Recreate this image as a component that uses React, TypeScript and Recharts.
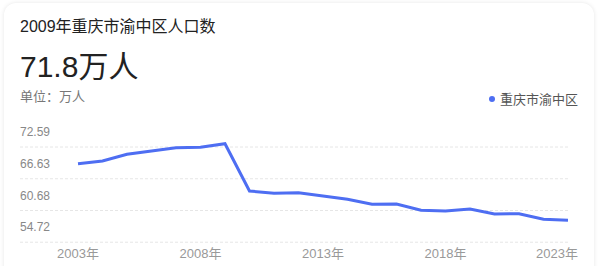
import React from "react";
import { LineChart, Line, XAxis, YAxis, Legend, CartesianGrid } from "recharts";

// 重庆市渝中区人口数（万人），2003–2023
const years = [
  "2003", "2004", "2005", "2006", "2007", "2008", "2009", "2010", "2011", "2012", "2013",
  "2014", "2015", "2016", "2017", "2018", "2019", "2020", "2021", "2022", "2023",
];
const population = [
  68.05, 68.55, 69.81, 70.43, 71.05, 71.12, 71.8, 62.93, 62.49, 62.61, 61.99,
  61.37, 60.43, 60.49, 59.3, 59.17, 59.55, 58.61, 58.67, 57.62, 57.43,
];
const yTicks = [54.72, 60.68, 66.63, 72.59];
const xTicks = ["2003", "2008", "2013", "2018", "2023"];
const seriesName = "重庆市渝中区";
const headlineYear = "2009";
const headlineValue = 71.8;

const data = years.map((y, i) => ({ year: y, value: population[i] }));

const FONT = "Arial, 'Liberation Sans', 'Noto Sans CJK SC', sans-serif";
const BLUE = "#4e6ef2";
const W = 600;
const H = 266;
const Y_AXIS_W = 20;
const Y_DOMAIN: [number, number] = [53, 77];
const MARGIN = { top: 116, right: 31, bottom: 0, left: 0 };
const PLOT_LEFT = MARGIN.left + Y_AXIS_W;
const LABEL_RIGHT_LIMIT = 578;
// grid rules sit a little below each tick, labels a little above
const GRID_SHIFT = 7.5;
const LABEL_SHIFT = -3.3;

const YTick = (props: any) => {
  const { y, payload } = props;
  return (
    <text x={PLOT_LEFT} y={y + LABEL_SHIFT} fill="#888" fontSize={12} fontFamily={FONT} textAnchor="start">
      {Number(payload.value).toFixed(2)}
    </text>
  );
};

const XTick = (props: any) => {
  const { x, y, payload } = props;
  const label = `${payload.value}年`;
  const halfWidth = 21;
  const cx = Math.min(x, LABEL_RIGHT_LIMIT - halfWidth);
  return (
    <text x={cx} y={y + 14} fill="#999" fontSize={13} fontFamily={FONT} textAnchor="middle">
      {label}
    </text>
  );
};

const gridRows = ({ offset }: any) => {
  const [lo, hi] = Y_DOMAIN;
  return yTicks.map((v) => offset.top + ((hi - v) / (hi - lo)) * offset.height + GRID_SHIFT);
};

const LegendContent = () => (
  <div style={{ display: "flex", alignItems: "center", fontFamily: FONT, fontSize: 13, color: "#555" }}>
    <span
      style={{
        width: 6,
        height: 6,
        borderRadius: "50%",
        background: BLUE,
        display: "inline-block",
        marginRight: 5,
      }}
    />
    <span>{seriesName}</span>
  </div>
);

export default function App() {
  return (
    <div
      style={{
        position: "fixed",
        left: 0,
        top: 0,
        width: W,
        height: H,
        background: "#fff",
        overflow: "hidden",
        fontFamily: FONT,
      }}
    >
      <div
        style={{
          position: "absolute",
          left: 4,
          top: 3,
          width: 590,
          height: 320,
          borderRadius: 12,
          background: "#fff",
          boxShadow: "0 0 4px rgba(0,0,0,0.10)",
        }}
      />
      <div
        style={{
          position: "absolute",
          left: 20,
          top: 16,
          fontSize: 16,
          lineHeight: "22px",
          color: "#222",
          whiteSpace: "nowrap",
        }}
      >
        {headlineYear}年重庆市渝中区人口数
      </div>
      <div
        style={{
          position: "absolute",
          left: 20,
          top: 48,
          fontSize: 30,
          lineHeight: "38px",
          color: "#222",
          whiteSpace: "nowrap",
        }}
      >
        {headlineValue}万人
      </div>
      <div
        style={{
          position: "absolute",
          left: 20,
          top: 89,
          fontSize: 13,
          lineHeight: "16px",
          color: "#777",
          whiteSpace: "nowrap",
        }}
      >
        单位：万人
      </div>
      <div style={{ position: "absolute", left: 0, top: 0 }}>
        <LineChart width={W} height={H} data={data} margin={MARGIN}>
          <CartesianGrid
            vertical={false}
            horizontalCoordinatesGenerator={gridRows}
            stroke="#e6e6e6"
            strokeDasharray="3 2"
          />
          <XAxis
            dataKey="year"
            ticks={xTicks}
            interval={0}
            tick={<XTick />}
            tickLine={false}
            axisLine={false}
            tickSize={0}
            tickMargin={0}
            height={22.1}
            padding={{ left: 58, right: 1 }}
          />
          <YAxis
            domain={Y_DOMAIN}
            ticks={yTicks}
            interval={0}
            allowDataOverflow
            tick={<YTick />}
            tickLine={false}
            axisLine={false}
            tickSize={0}
            width={Y_AXIS_W}
          />
          <Legend
            layout="horizontal"
            verticalAlign="middle"
            align="center"
            content={<LegendContent />}
            wrapperStyle={{ position: "absolute", top: 89, left: 489, right: "auto", width: "auto" }}
          />
          <Line
            type="linear"
            dataKey="value"
            name={seriesName}
            stroke={BLUE}
            strokeWidth={3}
            dot={false}
            activeDot={false}
            isAnimationActive={false}
          />
        </LineChart>
      </div>
    </div>
  );
}
